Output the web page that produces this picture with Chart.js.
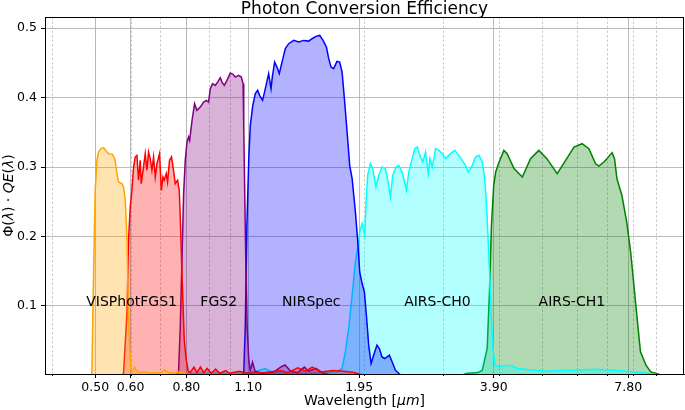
<!DOCTYPE html>
<html>
<head>
<meta charset="utf-8">
<script src="https://cdn.jsdelivr.net/npm/chart.js@4.4.1/dist/chart.umd.min.js"></script>
<style>
  html, body { margin: 0; padding: 0; background: #fff; }
  #wrap { width: 685px; height: 410px; position: relative; }
</style>
</head>
<body>
<div id="wrap"><canvas id="pce"></canvas></div>
<script>
// wavelengths in micron, efficiency = Phi * QE
const visWl  = [0.489, 0.4915, 0.494, 0.4974, 0.500, 0.5044, 0.5086, 0.5149, 0.5217, 0.529, 0.5352, 0.5463, 0.553, 0.5594, 0.564, 0.5739, 0.5786, 0.5838, 0.5889, 0.592, 0.5959, 0.6012, 0.606, 0.612, 0.62, 0.63, 0.645, 0.66, 0.68, 0.70, 0.715, 0.73, 0.75, 0.77, 0.79, 0.81];
const visEff = [0.000, 0.003, 0.0895, 0.1945, 0.2665, 0.3096, 0.3216, 0.3265, 0.328, 0.323, 0.3193, 0.3183, 0.3121, 0.2905, 0.2784, 0.2761, 0.2712, 0.2521, 0.1993, 0.1226, 0.0506, 0.0075, 0.006, 0.012, 0.006, 0.004, 0.005, 0.003, 0.004, 0.003, 0.008, 0.004, 0.003, 0.005, 0.003, 0.000];

const fgs1Wl  = [0.572, 0.5786, 0.5888, 0.5937, 0.5989, 0.6042, 0.6093, 0.6146, 0.620, 0.6252, 0.6306, 0.6339, 0.6414, 0.6471, 0.6528, 0.6582, 0.664, 0.6698, 0.6755, 0.6814, 0.6874, 0.6967, 0.7029, 0.7091, 0.7137, 0.7211, 0.726, 0.7334, 0.741, 0.7487, 0.7554, 0.7644, 0.7711, 0.7751, 0.7819, 0.7913, 0.7995, 0.808, 0.815, 0.832, 0.845, 0.86, 0.875, 0.89, 0.91, 0.93, 0.95, 0.98, 1.0, 1.05, 1.1, 1.2, 1.3, 1.35, 1.42, 1.48, 1.53, 1.6, 1.7, 1.8, 1.9, 2.0];
const fgs1Eff = [0.000, 0.003, 0.089, 0.1945, 0.2424, 0.2665, 0.300, 0.3144, 0.3168, 0.2809, 0.3096, 0.2761, 0.300, 0.3193, 0.2953, 0.3216, 0.3121, 0.2953, 0.3144, 0.2856, 0.3049, 0.3193, 0.2665, 0.2856, 0.2809, 0.2905, 0.2784, 0.3096, 0.3144, 0.2953, 0.2761, 0.2809, 0.2665, 0.2281, 0.1466, 0.0506, 0.0219, 0.006, 0.004, 0.012, 0.004, 0.012, 0.004, 0.010, 0.003, 0.009, 0.003, 0.007, 0.003, 0.006, 0.003, 0.004, 0.007, 0.004, 0.011, 0.006, 0.012, 0.005, 0.007, 0.006, 0.004, 0.000];

const fgs2Wl  = [0.76, 0.7683, 0.7751, 0.7819, 0.7887, 0.7954, 0.8025, 0.8093, 0.8136, 0.8237, 0.8345, 0.8445, 0.8594, 0.8742, 0.8864, 0.8969, 0.9049, 0.9156, 0.9285, 0.9397, 0.9528, 0.9611, 0.9726, 0.9861, 1.0032, 1.0171, 1.0294, 1.0472, 1.062, 1.0715, 1.0752, 1.0808, 1.0864, 1.0943, 1.1035, 1.1122, 1.118, 1.125, 1.14, 1.18, 1.25, 1.3, 1.33, 1.37, 1.42, 1.47, 1.5, 1.56, 1.62, 1.7];
const fgs2Eff = [0.000, 0.005, 0.0698, 0.1658, 0.2617, 0.3096, 0.336, 0.3432, 0.3384, 0.3672, 0.3912, 0.3816, 0.3863, 0.3935, 0.396, 0.3935, 0.4128, 0.420, 0.4175, 0.4223, 0.4286, 0.4223, 0.4175, 0.4247, 0.4352, 0.4334, 0.4295, 0.432, 0.4295, 0.420, 0.3576, 0.2617, 0.1658, 0.0698, 0.0219, 0.0075, 0.012, 0.019, 0.006, 0.003, 0.004, 0.012, 0.015, 0.006, 0.004, 0.012, 0.006, 0.010, 0.003, 0.000];

const nirWl  = [1.068, 1.0752, 1.0839, 1.0928, 1.1035, 1.1122, 1.1265, 1.1413, 1.1549, 1.167, 1.1849, 1.2017, 1.2224, 1.2376, 1.2458, 1.2607, 1.276, 1.2915, 1.3095, 1.3323, 1.3557, 1.3906, 1.4271, 1.4641, 1.5025, 1.529, 1.5634, 1.5903, 1.6184, 1.6466, 1.6662, 1.6864, 1.7089, 1.7386, 1.7629, 1.785, 1.8064, 1.8317, 1.8564, 1.8799, 1.9117, 1.9354, 1.9548, 1.979, 2.0025, 2.0233, 2.0474, 2.0726, 2.1001, 2.1367, 2.1628, 2.193, 2.2234, 2.2513, 2.2778, 2.311, 2.3498, 2.3894, 2.42];
const nirEff = [0.000, 0.005, 0.0722, 0.2161, 0.3121, 0.360, 0.3888, 0.4056, 0.4104, 0.4032, 0.396, 0.4128, 0.4344, 0.4128, 0.4295, 0.4511, 0.4439, 0.4344, 0.4511, 0.4704, 0.4776, 0.4823, 0.480, 0.4823, 0.4813, 0.4847, 0.4885, 0.4895, 0.4823, 0.4727, 0.456, 0.4439, 0.4416, 0.452, 0.4511, 0.4367, 0.3984, 0.3504, 0.3024, 0.2833, 0.2353, 0.1921, 0.1489, 0.1322, 0.1201, 0.0866, 0.0435, 0.0171, 0.0291, 0.0435, 0.0387, 0.0266, 0.0243, 0.0266, 0.0291, 0.0194, 0.0075, 0.003, 0.000];

const ch0Wl  = [0.78, 0.9, 1.0, 1.1, 1.15, 1.2, 1.25, 1.35, 1.5, 1.65, 1.74, 1.785, 1.8156, 1.8469, 1.8799, 1.9117, 1.9386, 1.9548, 1.979, 2.0055, 2.0202, 2.0369, 2.0655, 2.0903, 2.1257, 2.1561, 2.193, 2.2316, 2.263, 2.2899, 2.3172, 2.3582, 2.3894, 2.4324, 2.4746, 2.4874, 2.5173, 2.5621, 2.5969, 2.6292, 2.6649, 2.7064, 2.7445, 2.7833, 2.8064, 2.8415, 2.8909, 2.9405, 2.9931, 3.0445, 3.121, 3.191, 3.258, 3.315, 3.373, 3.42, 3.492, 3.551, 3.614, 3.678, 3.722, 3.755, 3.786, 3.82, 3.854, 3.886, 3.927, 3.94, 4.01, 4.11, 4.253, 4.40, 4.7, 5.09, 5.5, 5.88, 6.2, 6.54, 6.9, 7.25, 7.74, 8.31, 8.87, 9.2];
const ch0Eff = [0.002, 0.004, 0.003, 0.004, 0.006, 0.010, 0.004, 0.003, 0.003, 0.004, 0.005, 0.010, 0.0338, 0.0675, 0.1154, 0.1633, 0.1873, 0.2065, 0.2186, 0.2017, 0.2496, 0.288, 0.3049, 0.2977, 0.2712, 0.288, 0.300, 0.2977, 0.2784, 0.2568, 0.288, 0.300, 0.3024, 0.2928, 0.2737, 0.2665, 0.2928, 0.3121, 0.3265, 0.3288, 0.3168, 0.3072, 0.3216, 0.2905, 0.3121, 0.300, 0.3265, 0.324, 0.3193, 0.3121, 0.3193, 0.324, 0.3168, 0.3096, 0.3024, 0.2928, 0.3024, 0.3144, 0.3168, 0.3072, 0.2833, 0.2496, 0.2017, 0.1442, 0.0819, 0.0387, 0.0147, 0.0147, 0.0122, 0.0137, 0.0147, 0.010, 0.008, 0.006, 0.007, 0.0075, 0.008, 0.009, 0.008, 0.0075, 0.006, 0.004, 0.002, 0.000];

const ch1Wl  = [3.3, 3.4, 3.6, 3.678, 3.771, 3.82, 3.854, 3.90, 3.94, 4.01, 4.11, 4.18, 4.33, 4.52, 4.715, 4.92, 5.13, 5.41, 5.65, 5.90, 6.15, 6.37, 6.59, 6.71, 6.88, 7.00, 7.09, 7.18, 7.27, 7.36, 7.55, 7.74, 7.90, 8.06, 8.21, 8.31, 8.55, 8.76, 8.98, 9.3];
const ch1Eff = [0.000, 0.003, 0.004, 0.0075, 0.0387, 0.130, 0.215, 0.2737, 0.2928, 0.3072, 0.324, 0.3193, 0.2977, 0.2856, 0.3121, 0.324, 0.3121, 0.2905, 0.3096, 0.3288, 0.3336, 0.3265, 0.3049, 0.3014, 0.3072, 0.3121, 0.3168, 0.3207, 0.3121, 0.2833, 0.2593, 0.2209, 0.1777, 0.1201, 0.0675, 0.0338, 0.0147, 0.005, 0.003, 0.000];

// axis ticks
const majorTicks = [0.50, 0.60, 0.80, 1.10, 1.95, 3.90, 7.80];
const minorTicks = [0.4, 0.5, 0.6, 0.7, 0.8, 0.9, 1, 2, 3, 4, 5, 6, 7, 8, 9];
const yTicks = [0.1, 0.2, 0.3, 0.4, 0.5];

// channel names written inside the bands
const bandNames = ['VISPhot', 'FGS1', 'FGS2', 'NIRSpec', 'AIRS-CH0', 'AIRS-CH1'];
const bandNameWl = [0.5486, 0.6934, 0.945, 1.523, 2.918, 5.834];
const bandNameLevel = 0.1;

const FONT = "'DejaVu Sans', sans-serif";
const GRID = 'rgba(176,176,176,0.85)';

function pts(wl, eff) {
    return wl.map((w, i) => ({ x: w, y: eff[i] }));
}

function band(wl, eff, line, fillCol) {
    return {
        data: pts(wl, eff),
        borderColor: line,
        backgroundColor: fillCol,
        borderWidth: 1.5,
        fill: 'origin',
        pointRadius: 0,
        tension: 0
    };
}

const datasets = [
    band(visWl, visEff, '#FFA500', 'rgba(255,165,0,0.3)'),
    band(fgs1Wl, fgs1Eff, '#FF0000', 'rgba(255,0,0,0.3)'),
    band(fgs2Wl, fgs2Eff, '#800080', 'rgba(128,0,128,0.3)'),
    band(nirWl, nirEff, '#0000FF', 'rgba(0,0,255,0.3)'),
    band(ch0Wl, ch0Eff, '#00FFFF', 'rgba(0,255,255,0.3)'),
    band(ch1Wl, ch1Eff, '#008000', 'rgba(0,128,0,0.3)')
];

// draw text made of pieces with different font styles, centred on 0
function drawPieces(ctx, pieces, size) {
    let total = 0;
    const widths = pieces.map(p => {
        ctx.font = (p[1] ? 'italic ' : '') + size + 'px ' + FONT;
        const w = ctx.measureText(p[0]).width;
        total += w;
        return w;
    });
    let xx = -total / 2;
    pieces.forEach((p, i) => {
        ctx.font = (p[1] ? 'italic ' : '') + size + 'px ' + FONT;
        ctx.fillText(p[0], xx, 0);
        xx += widths[i];
    });
}

const decor = {
    id: 'decor',
    beforeDatasetsDraw(chart) {
        const { ctx, chartArea: a, scales: { x } } = chart;
        ctx.save();
        ctx.strokeStyle = GRID;
        ctx.lineWidth = 0.8;
        ctx.setLineDash([2.5, 2]);
        minorTicks.forEach(v => {
            const px = Math.round(x.getPixelForValue(v)) + 0.5;
            ctx.beginPath();
            ctx.moveTo(px, a.top);
            ctx.lineTo(px, a.bottom);
            ctx.stroke();
        });
        ctx.restore();
    },
    afterDatasetsDraw(chart) {
        const { ctx, scales: { x, y } } = chart;
        ctx.save();
        ctx.fillStyle = '#000';
        ctx.font = '14px ' + FONT;
        ctx.textAlign = 'center';
        ctx.textBaseline = 'alphabetic';
        bandNames.forEach((name, i) => {
            ctx.fillText(name, x.getPixelForValue(bandNameWl[i]), y.getPixelForValue(bandNameLevel));
        });
        ctx.restore();
    },
    afterDraw(chart) {
        const { ctx, chartArea: a, scales: { x } } = chart;
        ctx.save();
        // box around the axes
        ctx.strokeStyle = '#000';
        ctx.lineWidth = 1;
        ctx.strokeRect(a.left + 0.5, a.top + 0.5, a.right - a.left - 1, a.bottom - a.top);
        // minor tick marks
        minorTicks.forEach(v => {
            const px = Math.round(x.getPixelForValue(v)) + 0.5;
            ctx.beginPath();
            ctx.moveTo(px, a.bottom);
            ctx.lineTo(px, a.bottom + 2);
            ctx.stroke();
        });
        ctx.fillStyle = '#000';
        ctx.textBaseline = 'alphabetic';
        ctx.textAlign = 'left';
        const cx = (a.left + a.right) / 2;
        // title
        ctx.save();
        ctx.translate(cx, 13.5);
        drawPieces(ctx, [['Photon Conversion Efficiency', false]], 17);
        ctx.restore();
        // x label
        ctx.save();
        ctx.translate(cx, 405);
        drawPieces(ctx, [['Wavelength [', false], ['\u03bcm', true], [']', false]], 14);
        ctx.restore();
        // y label
        ctx.save();
        ctx.translate(12.5, (a.top + a.bottom) / 2);
        ctx.rotate(-Math.PI / 2);
        drawPieces(ctx, [['\u03a6(', false], ['\u03bb', true], [') \u00b7 ', false], ['QE', true], ['(', false], ['\u03bb', true], [')', false]], 14);
        ctx.restore();
        ctx.restore();
    }
};

new Chart(document.getElementById('pce'), {
    type: 'line',
    data: { datasets },
    options: {
        responsive: true,
        maintainAspectRatio: false,
        animation: false,
        layout: { padding: { top: 17, right: 1, left: 0, bottom: 0 } },
        plugins: {
            legend: { display: false },
            tooltip: { enabled: false },
            title: { display: false }
        },
        scales: {
            x: {
                type: 'logarithmic',
                min: 0.386,
                max: 10.4,
                afterBuildTicks: s => { s.ticks = majorTicks.map(v => ({ value: v })); },
                afterFit: s => { s.height = 36; },
                ticks: {
                    callback: v => Number(v).toFixed(2),
                    autoSkip: false,
                    maxRotation: 0,
                    color: '#000',
                    padding: 2,
                    font: { family: FONT, size: 12.5 }
                },
                grid: { color: GRID, lineWidth: 1, tickColor: '#000', tickLength: 4 },
                border: { color: '#000', width: 1 }
            },
            y: {
                min: 0.002,
                max: 0.516,
                afterBuildTicks: s => { s.ticks = yTicks.map(v => ({ value: v })); },
                afterFit: s => { s.width = 45; },
                ticks: {
                    callback: v => Number(v).toFixed(1),
                    color: '#000',
                    padding: 4,
                    font: { family: FONT, size: 12.5 }
                },
                grid: { color: GRID, lineWidth: 1, tickColor: '#000', tickLength: 4 },
                border: { color: '#000', width: 1 }
            }
        }
    },
    plugins: [decor]
});
</script>
</body>
</html>
